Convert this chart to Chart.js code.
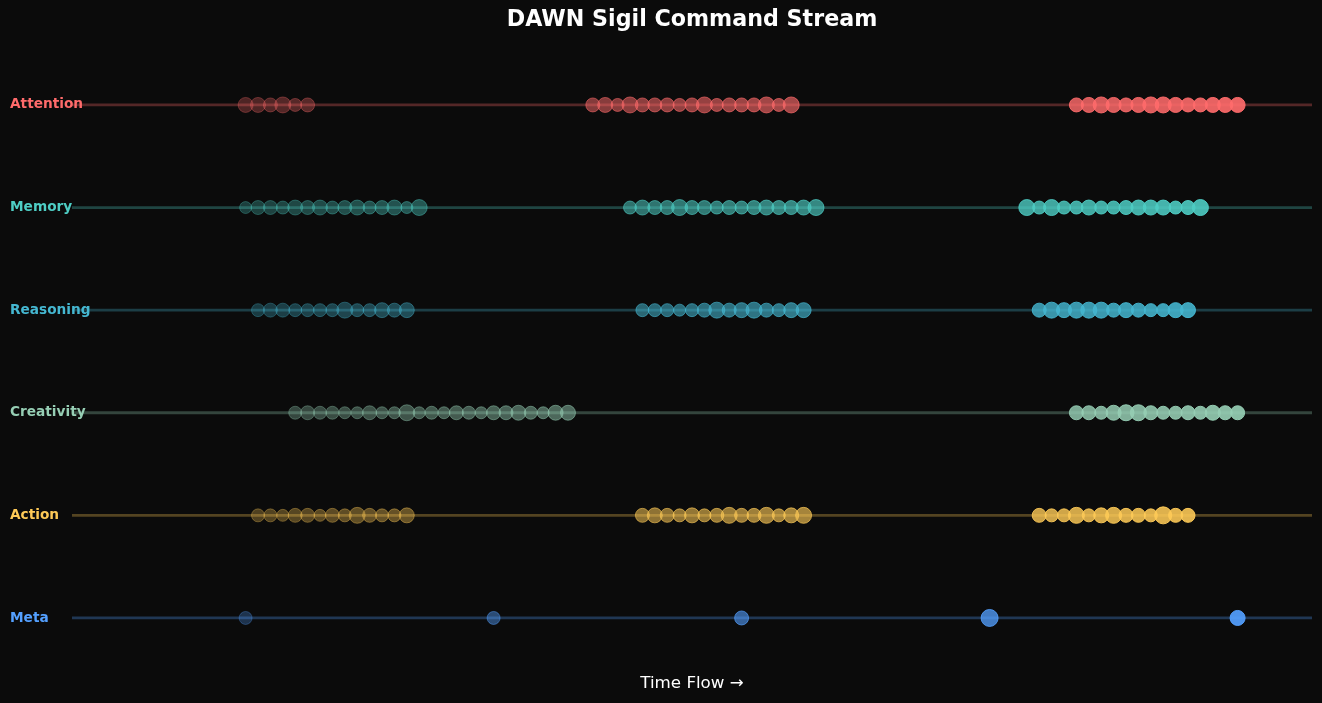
<!DOCTYPE html>
<html>
<head>
<meta charset="utf-8">
<script src="https://cdn.jsdelivr.net/npm/chart.js@4"></script>
<style>
  html, body { margin: 0; padding: 0; background: #0b0b0b; }
  #wrap { width: 1322px; height: 703px; }
</style>
</head>
<body>
<div id="wrap"><canvas id="c"></canvas></div>
<script>
// ---- Data ----
const categories = ['Attention', 'Memory', 'Reasoning', 'Creativity', 'Action', 'Meta'];
const categoryColors = ['#ff6b6b', '#4ecdc4', '#45b7d1', '#96ceb4', '#feca57', '#54a0ff'];
const timeRange = [0, 50];

const attentionTimes = [7, 7.5, 8, 8.5, 9, 9.5,
  21, 21.5, 22, 22.5, 23, 23.5, 24, 24.5, 25, 25.5, 26, 26.5, 27, 27.5, 28, 28.5, 29,
  40.5, 41, 41.5, 42, 42.5, 43, 43.5, 44, 44.5, 45, 45.5, 46, 46.5, 47];
const attentionSizes = [7.5, 7.5, 7, 8, 6.5, 7,
  7, 7.5, 6.5, 8, 7, 7, 7, 6.5, 7, 8, 6.5, 7, 7, 7, 8, 6.5, 8,
  7, 7.5, 8, 7.5, 7, 7.5, 8, 8, 7.5, 7, 7, 7.5, 7.5, 7.5];

const memoryTimes = [7, 7.5, 8, 8.5, 9, 9.5, 10, 10.5, 11, 11.5, 12, 12.5, 13, 13.5, 14,
  22.5, 23, 23.5, 24, 24.5, 25, 25.5, 26, 26.5, 27, 27.5, 28, 28.5, 29, 29.5, 30,
  38.5, 39, 39.5, 40, 40.5, 41, 41.5, 42, 42.5, 43, 43.5, 44, 44.5, 45, 45.5];
const memorySizes = [6, 7, 7, 6.5, 7.5, 7, 7.5, 6.5, 7, 7.5, 6.5, 7, 7.5, 6, 8,
  6.5, 7.5, 7, 7, 8, 7, 7, 6.5, 7, 6.5, 7, 7.5, 7, 7, 7.5, 8,
  8, 6.5, 8, 6.5, 6.5, 7.5, 6.5, 6.5, 7, 7.5, 7.5, 7.5, 6.5, 7, 8];

const reasoningTimes = [7.5, 8, 8.5, 9, 9.5, 10, 10.5, 11, 11.5, 12, 12.5, 13, 13.5,
  23, 23.5, 24, 24.5, 25, 25.5, 26, 26.5, 27, 27.5, 28, 28.5, 29, 29.5,
  39, 39.5, 40, 40.5, 41, 41.5, 42, 42.5, 43, 43.5, 44, 44.5, 45];
const reasoningSizes = [6.5, 7, 7, 6.5, 6.5, 6.5, 6.5, 8, 6.5, 6.5, 7.5, 7, 7.5,
  6.5, 6.5, 6.5, 6, 6.5, 7, 8, 7, 7.5, 8, 7, 6.5, 7.5, 7.5,
  7, 8, 7.5, 8, 8, 8, 7, 7.5, 7, 6.5, 6.5, 7.5, 7.5];

const creativityTimes = [9, 9.5, 10, 10.5, 11, 11.5, 12, 12.5, 13, 13.5, 14, 14.5, 15, 15.5, 16, 16.5, 17, 17.5, 18, 18.5, 19, 19.5, 20,
  40.5, 41, 41.5, 42, 42.5, 43, 43.5, 44, 44.5, 45, 45.5, 46, 46.5, 47];
const creativitySizes = [6.5, 7, 6.5, 6.5, 6, 6, 7, 6, 6, 8, 6, 6.5, 6, 7, 6.5, 6, 7, 7, 7.5, 6.5, 6, 7.5, 7.5,
  7, 7, 6.5, 7.5, 8, 8, 7, 6.5, 6.5, 7, 6.5, 7.5, 7, 7];

const actionTimes = [7.5, 8, 8.5, 9, 9.5, 10, 10.5, 11, 11.5, 12, 12.5, 13, 13.5,
  23, 23.5, 24, 24.5, 25, 25.5, 26, 26.5, 27, 27.5, 28, 28.5, 29, 29.5,
  39, 39.5, 40, 40.5, 41, 41.5, 42, 42.5, 43, 43.5, 44, 44.5, 45];
const actionSizes = [6.5, 6.5, 6, 7, 7, 6, 7, 6.5, 8, 7, 6.5, 6.5, 7.5,
  7, 7.5, 7, 6.5, 7.5, 6.5, 7, 8, 7, 7, 8, 6.5, 7.5, 8,
  7, 6.5, 6.5, 8, 6.5, 7.5, 8, 7, 7, 6.5, 8.5, 7, 7];

const metaTimes = [7, 17, 27, 37, 47];
const metaSizes = [6.5, 6.5, 7, 8.5, 7.5];

const seriesTimes = [attentionTimes, memoryTimes, reasoningTimes, creativityTimes, actionTimes, metaTimes];
const seriesSizes = [attentionSizes, memorySizes, reasoningSizes, creativitySizes, actionSizes, metaSizes];

// ---- Helpers ----
function hexToRgba(hex, a) {
  const n = parseInt(hex.slice(1), 16);
  return `rgba(${(n >> 16) & 255},${(n >> 8) & 255},${n & 255},${a})`;
}
const allTimes = seriesTimes.flat();
const tMin = Math.min(...allTimes), tMax = Math.max(...allTimes);
function fadeAlpha(t) { return 0.3 + 0.7 * (t - tMin) / (tMax - tMin); }

const FONT = "'DejaVu Sans', 'Liberation Sans', sans-serif";

// ---- Datasets ----
const datasets = [];
categories.forEach((cat, i) => {
  const color = categoryColors[i];
  datasets.push({
    type: 'line',
    label: cat + ' stream',
    data: [{ x: timeRange[0], y: i }, { x: timeRange[1], y: i }],
    borderColor: hexToRgba(color, 0.3),
    borderWidth: 2.8,
    pointRadius: 0,
    order: 10
  });
  datasets.push({
    type: 'scatter',
    label: cat,
    data: seriesTimes[i].map(t => ({ x: t, y: i })),
    pointRadius: seriesSizes[i],
    pointHoverRadius: seriesSizes[i],
    backgroundColor: ctx => hexToRgba(color, fadeAlpha(ctx.raw ? ctx.raw.x : 0) * 0.92),
    borderColor: ctx => hexToRgba(color, fadeAlpha(ctx.raw ? ctx.raw.x : 0)),
    borderWidth: 1,
    order: 1
  });
});

const bgPlugin = {
  id: 'bg',
  beforeDraw(chart) {
    const { ctx, width, height } = chart;
    ctx.save();
    ctx.fillStyle = '#0b0b0b';
    ctx.fillRect(0, 0, width, height);
    ctx.restore();
  }
};

// Category labels at the left edge, drawn from the y scale's positions
const rowLabelPlugin = {
  id: 'rowLabels',
  afterDraw(chart) {
    const { ctx } = chart;
    const yScale = chart.scales.y;
    ctx.save();
    ctx.font = `bold 13.7px ${FONT}`;
    ctx.textAlign = 'left';
    ctx.textBaseline = 'middle';
    categories.forEach((cat, i) => {
      ctx.fillStyle = categoryColors[i];
      ctx.fillText(cat, 10, yScale.getPixelForValue(i));
    });
    ctx.restore();
  }
};

new Chart(document.getElementById('c'), {
  data: { datasets },
  plugins: [bgPlugin, rowLabelPlugin],
  options: {
    responsive: true,
    maintainAspectRatio: false,
    animation: false,
    layout: { autoPadding: false, padding: { left: 72, right: 10, top: 0, bottom: 0 } },
    plugins: {
      legend: { display: false },
      tooltip: { enabled: false },
      title: {
        display: true,
        text: 'DAWN Sigil Command Stream',
        color: '#ffffff',
        fullSize: false,
        font: { family: FONT, size: 22.2, weight: 'bold' },
        padding: { top: 7, bottom: 20 }
      }
    },
    scales: {
      x: {
        type: 'linear',
        min: timeRange[0],
        max: timeRange[1],
        grid: { display: false, drawTicks: false },
        border: { display: false },
        ticks: { display: false },
        title: {
          display: true,
          text: 'Time Flow →',
          color: '#ffffff',
          font: { family: FONT, size: 16.7 },
          padding: { top: 4.7, bottom: 9 }
        }
      },
      y: {
        type: 'linear',
        min: -0.5,
        max: 5.5,
        reverse: true,
        display: false,
        grid: { display: false, drawTicks: false },
        border: { display: false },
        ticks: { display: false }
      }
    }
  }
});
</script>
</body>
</html>
